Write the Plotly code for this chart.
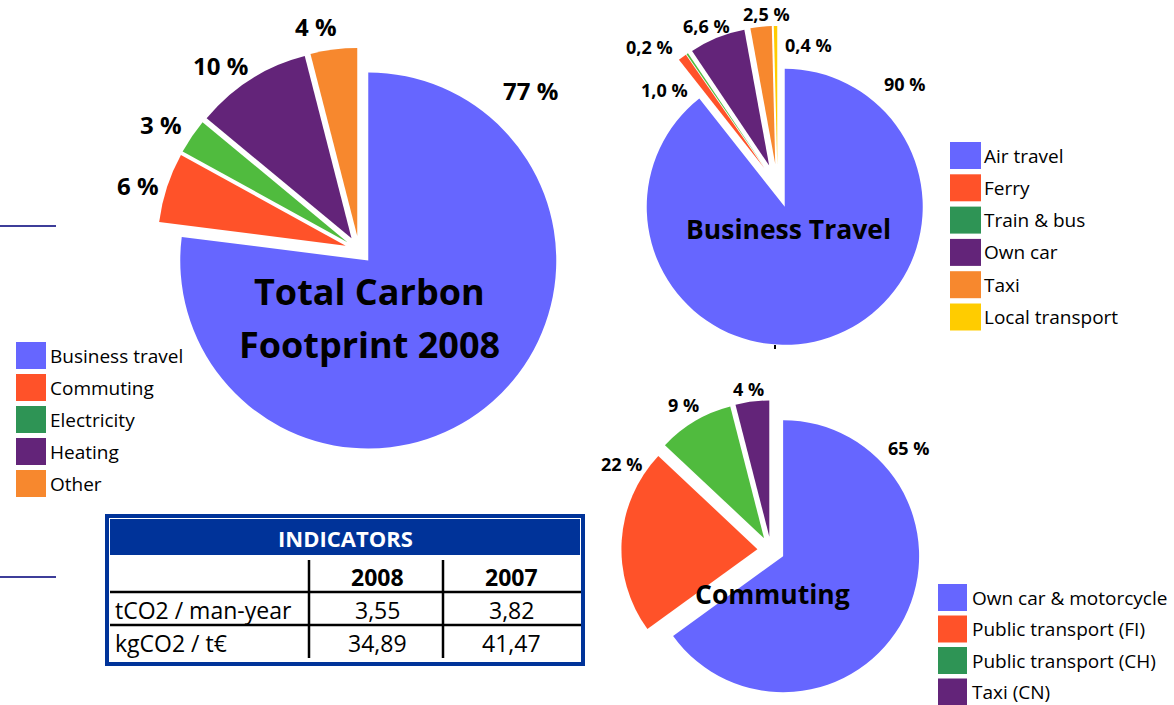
import plotly.graph_objects as go

W, H = 1174, 705
FONT = "Open Sans, Carlito, sans-serif"

# ---------------- data ----------------
total_cats = ["Business travel", "Commuting", "Electricity", "Heating", "Other"]
total_vals = [77, 6, 3, 10, 4]
total_dec = [0, 0, 0, 0, 0]

bt_cats = ["Air travel", "Ferry", "Train & bus", "Own car", "Taxi", "Local transport"]
bt_vals = [90, 1.0, 0.2, 6.6, 2.5, 0.4]
bt_dec = [0, 1, 1, 1, 1, 1]

cm_cats = ["Own car & motorcycle", "Public transport (FI)", "Public transport (CH)", "Taxi (CN)"]
cm_vals = [65, 22, 9, 4]
cm_dec = [0, 0, 0, 0]

ind_title = "INDICATORS"
ind_rows = ["tCO2 / man-year", "kgCO2 / t€"]
ind_years = ["2008", "2007"]
ind_2008 = [3.55, 34.89]
ind_2007 = [3.82, 41.47]

# ---------------- styles ----------------
BLUE, RED, GREEN, PURPLE, ORANGE, YELLOW = "#6666FF", "#FF5229", "#50BB3E", "#632479", "#F7882E", "#FFCC00"
LEG_GREEN = "#2E9455"
total_colors = [BLUE, RED, GREEN, PURPLE, ORANGE]
total_leg = [BLUE, RED, LEG_GREEN, PURPLE, ORANGE]
bt_colors = [BLUE, RED, GREEN, PURPLE, ORANGE, YELLOW]
bt_leg = [BLUE, RED, LEG_GREEN, PURPLE, ORANGE, YELLOW]
cm_colors = [BLUE, RED, GREEN, PURPLE]
cm_leg = [BLUE, RED, LEG_GREEN, PURPLE]


def X(x):
    return x / W


def Y(y):
    return 1 - y / H


def pct(v, d):
    return f"{v:.{d}f}".replace(".", ",") + " %"


def num(v):
    return f"{v:.2f}".replace(".", ",")


def make_pie(vals, cats, colors, cx, cy, r, pull):
    half = r * (1 + pull)
    return go.Pie(
        values=vals, labels=cats, sort=False, direction="clockwise", rotation=0,
        pull=pull, textinfo="none", showlegend=False, hoverinfo="label+percent",
        marker=dict(colors=colors, line=dict(width=0)),
        domain=dict(x=[X(cx - half), X(cx + half)], y=[Y(cy + half), Y(cy - half)]),
    )


fig = go.Figure()
fig.add_trace(make_pie(total_vals, total_cats, total_colors, 359, 250, 188, 0.0745))
fig.add_trace(make_pie(bt_vals, bt_cats, bt_colors, 777.5, 186, 138, 0.16))
fig.add_trace(make_pie(cm_vals, cm_cats, cm_colors, 771, 550, 136, 0.10))

shapes = []
annotations = []


def rect(x0, y0, x1, y1, color, layer="below"):
    shapes.append(dict(type="rect", xref="paper", yref="paper", x0=X(x0), x1=X(x1),
                       y0=Y(y1), y1=Y(y0), fillcolor=color, line=dict(width=0), layer=layer))


def line(x0, y0, x1, y1, color, width):
    shapes.append(dict(type="line", xref="paper", yref="paper", x0=X(x0), x1=X(x1),
                       y0=Y(y0), y1=Y(y1), line=dict(color=color, width=width), layer="below"))


def text(x, y, s, size, bold=False, color="black", xanchor="center"):
    if xanchor == "left":
        x -= 1
    annotations.append(dict(x=X(x), y=Y(y), xref="paper", yref="paper", showarrow=False,
                            text=f"<b>{s}</b>" if bold else s, xanchor=xanchor, yanchor="middle",
                            borderpad=0, font=dict(family=FONT, size=size, color=color)))


# ---------------- indicators table ----------------
rect(105, 514, 585, 666, "#003399")
rect(109, 518, 581, 662, "white")
rect(110, 519, 580, 555, "#003399")
text(345, 538, ind_title, 22, bold=True, color="white")
line(110, 592, 581, 592, "black", 2.5)
line(110, 625, 581, 625, "black", 2.5)
line(309, 560, 309, 658, "black", 2.5)
line(443, 560, 443, 658, "black", 2.5)

col_x = [115, 377, 511]
head_y = 577
row_y = [610, 643]
for yr, cx in zip(ind_years, col_x[1:]):
    text(cx, head_y, yr, 23, bold=True)
for lab, a, b, ry in zip(ind_rows, ind_2008, ind_2007, row_y):
    text(col_x[0], ry, lab, 23, xanchor="left")
    text(col_x[1], ry, num(a), 23)
    text(col_x[2], ry, num(b), 23)

# left decorative lines
line(0, 226, 56, 226, "#3D3D99", 2)
line(0, 577, 56, 577, "#3D3D99", 2)
line(775, 345, 775, 349, "black", 2)


# ---------------- legends ----------------
def legend(cats, colors, sx0, sx1, y_top, step, tx):
    for i, (c, col) in enumerate(zip(cats, colors)):
        y0 = y_top + i * step
        rect(sx0, y0, sx1, y0 + 27, col)
        text(tx, y0 + 13.5, c, 19, xanchor="left")


legend(total_cats, total_leg, 16, 46, 342, 32, 50)
legend(bt_cats, bt_leg, 950, 981, 142, 32.3, 984)
legend(cm_cats, cm_leg, 938, 967, 584, 31.5, 972)

# ---------------- pie titles ----------------
text(369, 291, "Total Carbon", 36, bold=True)
text(369, 345, "Footprint 2008", 36, bold=True)
text(788, 229, "Business Travel", 26.5, bold=True)
text(772, 594, "Commuting", 26.5, bold=True)

# ---------------- percentage labels ----------------
total_pos = [(530, 91), (138, 186), (161, 124), (220, 65), (316, 26)]
for v, d, (x, y) in zip(total_vals, total_dec, total_pos):
    text(x, y, pct(v, d), 24, bold=True)
bt_pos = [(904, 84), (664, 90), (649, 47), (706, 26), (766, 14), (808, 45)]
for v, d, (x, y) in zip(bt_vals, bt_dec, bt_pos):
    text(x, y, pct(v, d), 18, bold=True)
cm_pos = [(908, 448), (621, 464), (683, 405), (748, 389)]
for v, d, (x, y) in zip(cm_vals, cm_dec, cm_pos):
    text(x, y, pct(v, d), 18, bold=True)

fig.update_layout(
    width=W, height=H, margin=dict(l=0, r=0, t=0, b=0),
    paper_bgcolor="white", plot_bgcolor="white",
    shapes=shapes, annotations=annotations,
)

fig.write_html("out.html", config={"displayModeBar": False},
               post_script="document.body.style.margin='0';document.body.style.overflow='hidden';")
